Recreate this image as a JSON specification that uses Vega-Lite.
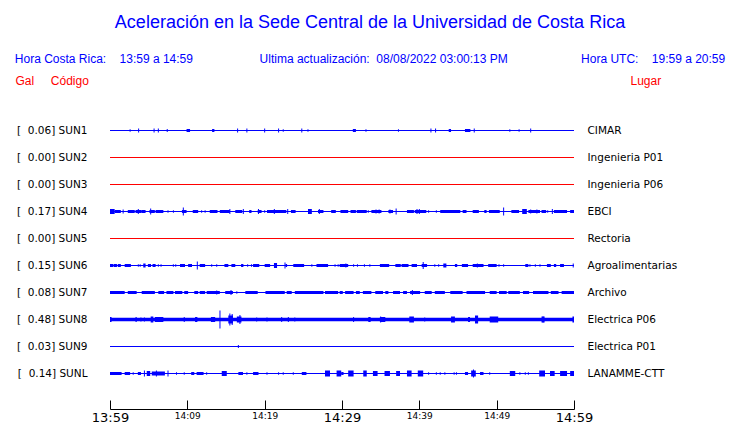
{
  "$schema": "https://vega.github.io/schema/vega-lite/v6.json",
  "width": 464,
  "height": 297,
  "autosize": {"type": "none"},
  "padding": {"left": 110, "top": 103, "right": 166, "bottom": 23},
  "background": "white",
  "config": {"view": {"stroke": null}, "axis": {"grid": false}},
  "title": {
    "text": "\u00a0\u00a0Aceleración en la Sede Central de la Universidad de Costa Rica",
    "subtitle": "Hora Costa Rica:\u00a0\u00a0\u00a0\u00a013:59 a 14:59\u00a0\u00a0\u00a0\u00a0\u00a0\u00a0\u00a0\u00a0\u00a0\u00a0\u00a0\u00a0\u00a0\u00a0\u00a0\u00a0\u00a0\u00a0\u00a0\u00a0Ultima actualización:\u00a0\u00a008/08/2022 03:00:13 PM\u00a0\u00a0\u00a0\u00a0\u00a0\u00a0\u00a0\u00a0\u00a0\u00a0\u00a0\u00a0\u00a0\u00a0\u00a0\u00a0\u00a0\u00a0\u00a0\u00a0\u00a0\u00a0Hora UTC:\u00a0\u00a0\u00a0\u00a019:59 a 20:59",
    "color": "#0000ff",
    "subtitleColor": "#0000ff",
    "font": "Liberation Sans",
    "subtitleFont": "Liberation Sans",
    "fontSize": 18,
    "subtitleFontSize": 12,
    "fontWeight": "normal",
    "anchor": "middle",
    "dx": 28,
    "offset": 9,
    "subtitlePadding": 22
  },
  "datasets": {
    "trazas": [
      {"cod": "SUN1", "t0": 0, "t1": 60, "estado": "con datos"},
      {"cod": "SUN2", "t0": 0, "t1": 60, "estado": "sin datos"},
      {"cod": "SUN3", "t0": 0, "t1": 60, "estado": "sin datos"},
      {"cod": "SUN4", "t0": 0, "t1": 60, "estado": "con datos"},
      {"cod": "SUN5", "t0": 0, "t1": 60, "estado": "sin datos"},
      {"cod": "SUN6", "t0": 0, "t1": 60, "estado": "con datos"},
      {"cod": "SUN7", "t0": 0, "t1": 60, "estado": "con datos"},
      {"cod": "SUN8", "t0": 0, "t1": 60, "estado": "con datos"},
      {"cod": "SUN9", "t0": 0, "t1": 60, "estado": "con datos"},
      {"cod": "SUNL", "t0": 0, "t1": 60, "estado": "con datos"}
    ],
    "bloques": [
      {"cod": "SUN1", "t0": 9.9, "t1": 10.35, "amp": 3},
      {"cod": "SUN1", "t0": 13.2, "t1": 13.5, "amp": 3},
      {"cod": "SUN1", "t0": 31.4, "t1": 31.8, "amp": 3},
      {"cod": "SUN1", "t0": 43.8, "t1": 44.1, "amp": 3},
      {"cod": "SUN1", "t0": 45.9, "t1": 46.6, "amp": 3},

      {"cod": "SUN4", "t0": 0, "t1": 0.6, "amp": 5},
      {"cod": "SUN4", "t0": 0.6, "t1": 1.4, "amp": 3},
      {"cod": "SUN4", "t0": 2.3, "t1": 3.2, "amp": 3},
      {"cod": "SUN4", "t0": 3.3, "t1": 4.1, "amp": 3},
      {"cod": "SUN4", "t0": 4.1, "t1": 4.6, "amp": 3},
      {"cod": "SUN4", "t0": 5.1, "t1": 5.8, "amp": 3},
      {"cod": "SUN4", "t0": 5.9, "t1": 6.9, "amp": 3},
      {"cod": "SUN4", "t0": 9.3, "t1": 9.9, "amp": 3},
      {"cod": "SUN4", "t0": 10.7, "t1": 11.4, "amp": 3},
      {"cod": "SUN4", "t0": 12.9, "t1": 13.9, "amp": 3},
      {"cod": "SUN4", "t0": 14.2, "t1": 15.5, "amp": 3},
      {"cod": "SUN4", "t0": 16.2, "t1": 17.1, "amp": 3},
      {"cod": "SUN4", "t0": 18.0, "t1": 18.3, "amp": 3},
      {"cod": "SUN4", "t0": 19.1, "t1": 19.6, "amp": 3},
      {"cod": "SUN4", "t0": 20.3, "t1": 22.8, "amp": 3},
      {"cod": "SUN4", "t0": 23.4, "t1": 24.0, "amp": 3},
      {"cod": "SUN4", "t0": 25.6, "t1": 26.1, "amp": 5},
      {"cod": "SUN4", "t0": 26.9, "t1": 27.6, "amp": 3},
      {"cod": "SUN4", "t0": 28.6, "t1": 29.2, "amp": 3},
      {"cod": "SUN4", "t0": 29.8, "t1": 30.8, "amp": 3},
      {"cod": "SUN4", "t0": 31.1, "t1": 31.8, "amp": 3},
      {"cod": "SUN4", "t0": 31.9, "t1": 33.2, "amp": 3},
      {"cod": "SUN4", "t0": 33.8, "t1": 35.1, "amp": 3},
      {"cod": "SUN4", "t0": 36.0, "t1": 36.6, "amp": 3},
      {"cod": "SUN4", "t0": 38.4, "t1": 39.3, "amp": 3},
      {"cod": "SUN4", "t0": 39.4, "t1": 40.9, "amp": 3},
      {"cod": "SUN4", "t0": 42.7, "t1": 45.3, "amp": 3},
      {"cod": "SUN4", "t0": 45.6, "t1": 46.1, "amp": 3},
      {"cod": "SUN4", "t0": 46.9, "t1": 47.7, "amp": 3},
      {"cod": "SUN4", "t0": 48.4, "t1": 48.7, "amp": 3},
      {"cod": "SUN4", "t0": 49.0, "t1": 50.4, "amp": 3},
      {"cod": "SUN4", "t0": 51.9, "t1": 52.9, "amp": 3},
      {"cod": "SUN4", "t0": 53.3, "t1": 53.9, "amp": 5},
      {"cod": "SUN4", "t0": 54.1, "t1": 55.6, "amp": 3},
      {"cod": "SUN4", "t0": 55.8, "t1": 56.4, "amp": 3},
      {"cod": "SUN4", "t0": 57.4, "t1": 59.1, "amp": 3},
      {"cod": "SUN4", "t0": 59.5, "t1": 60, "amp": 3},

      {"cod": "SUN6", "t0": 0, "t1": 0.45, "amp": 3},
      {"cod": "SUN6", "t0": 0.5, "t1": 0.9, "amp": 3},
      {"cod": "SUN6", "t0": 1.0, "t1": 1.4, "amp": 3},
      {"cod": "SUN6", "t0": 1.9, "t1": 2.7, "amp": 3},
      {"cod": "SUN6", "t0": 4.3, "t1": 4.6, "amp": 4},
      {"cod": "SUN6", "t0": 4.9, "t1": 5.3, "amp": 3},
      {"cod": "SUN6", "t0": 5.5, "t1": 5.9, "amp": 3},
      {"cod": "SUN6", "t0": 9.05, "t1": 9.7, "amp": 3},
      {"cod": "SUN6", "t0": 10.1, "t1": 10.6, "amp": 3},
      {"cod": "SUN6", "t0": 11.6, "t1": 12.3, "amp": 3},
      {"cod": "SUN6", "t0": 14.8, "t1": 15.3, "amp": 3},
      {"cod": "SUN6", "t0": 15.7, "t1": 16.2, "amp": 3},
      {"cod": "SUN6", "t0": 16.95, "t1": 17.25, "amp": 3},
      {"cod": "SUN6", "t0": 18.5, "t1": 19.3, "amp": 3},
      {"cod": "SUN6", "t0": 20.0, "t1": 20.7, "amp": 3},
      {"cod": "SUN6", "t0": 21.2, "t1": 21.6, "amp": 5},
      {"cod": "SUN6", "t0": 22.7, "t1": 22.9, "amp": 3},
      {"cod": "SUN6", "t0": 23.7, "t1": 25.1, "amp": 3},
      {"cod": "SUN6", "t0": 26.7, "t1": 28.2, "amp": 3},
      {"cod": "SUN6", "t0": 29.7, "t1": 30.8, "amp": 3},
      {"cod": "SUN6", "t0": 34.9, "t1": 36.1, "amp": 3},
      {"cod": "SUN6", "t0": 36.9, "t1": 37.6, "amp": 3},
      {"cod": "SUN6", "t0": 37.7, "t1": 38.6, "amp": 3},
      {"cod": "SUN6", "t0": 39.0, "t1": 39.7, "amp": 3},
      {"cod": "SUN6", "t0": 40.3, "t1": 41.0, "amp": 3},
      {"cod": "SUN6", "t0": 43.1, "t1": 43.5, "amp": 4},
      {"cod": "SUN6", "t0": 44.6, "t1": 44.9, "amp": 3},
      {"cod": "SUN6", "t0": 45.5, "t1": 46.3, "amp": 3},
      {"cod": "SUN6", "t0": 46.9, "t1": 48.3, "amp": 3},
      {"cod": "SUN6", "t0": 48.9, "t1": 50.0, "amp": 3},
      {"cod": "SUN6", "t0": 53.7, "t1": 54.1, "amp": 3},
      {"cod": "SUN6", "t0": 56.5, "t1": 57.0, "amp": 3},
      {"cod": "SUN6", "t0": 57.4, "t1": 57.7, "amp": 3},
      {"cod": "SUN6", "t0": 58.2, "t1": 58.7, "amp": 3},

      {"cod": "SUN7", "t0": 0, "t1": 1.9, "amp": 3},
      {"cod": "SUN7", "t0": 2.3, "t1": 3.45, "amp": 3},
      {"cod": "SUN7", "t0": 4.1, "t1": 5.8, "amp": 3},
      {"cod": "SUN7", "t0": 6.25, "t1": 7.0, "amp": 3},
      {"cod": "SUN7", "t0": 7.3, "t1": 8.2, "amp": 3},
      {"cod": "SUN7", "t0": 8.4, "t1": 9.35, "amp": 3},
      {"cod": "SUN7", "t0": 9.6, "t1": 10.1, "amp": 3},
      {"cod": "SUN7", "t0": 10.9, "t1": 11.4, "amp": 3},
      {"cod": "SUN7", "t0": 11.6, "t1": 12.3, "amp": 3},
      {"cod": "SUN7", "t0": 12.5, "t1": 14.2, "amp": 3},
      {"cod": "SUN7", "t0": 14.9, "t1": 15.9, "amp": 3},
      {"cod": "SUN7", "t0": 17.5, "t1": 19.1, "amp": 3},
      {"cod": "SUN7", "t0": 20.1, "t1": 22.6, "amp": 3},
      {"cod": "SUN7", "t0": 22.85, "t1": 23.5, "amp": 3},
      {"cod": "SUN7", "t0": 23.9, "t1": 27.6, "amp": 3},
      {"cod": "SUN7", "t0": 27.8, "t1": 29.5, "amp": 3},
      {"cod": "SUN7", "t0": 29.7, "t1": 30.1, "amp": 3},
      {"cod": "SUN7", "t0": 30.4, "t1": 31.5, "amp": 3},
      {"cod": "SUN7", "t0": 31.8, "t1": 32.3, "amp": 3},
      {"cod": "SUN7", "t0": 32.7, "t1": 33.8, "amp": 3},
      {"cod": "SUN7", "t0": 34.3, "t1": 35.3, "amp": 3},
      {"cod": "SUN7", "t0": 35.6, "t1": 36.0, "amp": 3},
      {"cod": "SUN7", "t0": 36.6, "t1": 37.5, "amp": 3},
      {"cod": "SUN7", "t0": 37.9, "t1": 38.4, "amp": 3},
      {"cod": "SUN7", "t0": 38.8, "t1": 40.1, "amp": 3},
      {"cod": "SUN7", "t0": 40.7, "t1": 41.6, "amp": 3},
      {"cod": "SUN7", "t0": 42.0, "t1": 43.3, "amp": 3},
      {"cod": "SUN7", "t0": 44.0, "t1": 45.6, "amp": 3},
      {"cod": "SUN7", "t0": 46.1, "t1": 48.5, "amp": 3},
      {"cod": "SUN7", "t0": 49.1, "t1": 50.0, "amp": 3},
      {"cod": "SUN7", "t0": 50.3, "t1": 51.3, "amp": 3},
      {"cod": "SUN7", "t0": 51.5, "t1": 53.0, "amp": 3},
      {"cod": "SUN7", "t0": 53.4, "t1": 54.2, "amp": 3},
      {"cod": "SUN7", "t0": 54.7, "t1": 56.7, "amp": 3},
      {"cod": "SUN7", "t0": 57.0, "t1": 58.0, "amp": 3},
      {"cod": "SUN7", "t0": 58.4, "t1": 60, "amp": 3},

      {"cod": "SUN8", "t0": 0, "t1": 60, "amp": 3.5},
      {"cod": "SUN8", "t0": 0, "t1": 0.2, "amp": 5},
      {"cod": "SUN8", "t0": 3.3, "t1": 3.45, "amp": 5},
      {"cod": "SUN8", "t0": 5.26, "t1": 5.6, "amp": 6},
      {"cod": "SUN8", "t0": 5.8, "t1": 6.9, "amp": 5},
      {"cod": "SUN8", "t0": 11.0, "t1": 11.3, "amp": 5},
      {"cod": "SUN8", "t0": 13.05, "t1": 13.6, "amp": 5},
      {"cod": "SUN8", "t0": 15.3, "t1": 15.9, "amp": 8},
      {"cod": "SUN8", "t0": 16.4, "t1": 17.0, "amp": 6},
      {"cod": "SUN8", "t0": 33.4, "t1": 33.7, "amp": 5},
      {"cod": "SUN8", "t0": 34.9, "t1": 35.6, "amp": 5},
      {"cod": "SUN8", "t0": 38.7, "t1": 39.3, "amp": 6},
      {"cod": "SUN8", "t0": 44.1, "t1": 44.6, "amp": 6},
      {"cod": "SUN8", "t0": 46.3, "t1": 46.55, "amp": 5},
      {"cod": "SUN8", "t0": 47.2, "t1": 47.6, "amp": 8},
      {"cod": "SUN8", "t0": 49.1, "t1": 50.2, "amp": 6},
      {"cod": "SUN8", "t0": 55.8, "t1": 56.2, "amp": 6},
      {"cod": "SUN8", "t0": 59.8, "t1": 60, "amp": 6},

      {"cod": "SUNL", "t0": 0, "t1": 1.5, "amp": 3},
      {"cod": "SUNL", "t0": 1.9, "t1": 2.6, "amp": 3},
      {"cod": "SUNL", "t0": 3.6, "t1": 4.0, "amp": 3},
      {"cod": "SUNL", "t0": 4.75, "t1": 5.2, "amp": 5},
      {"cod": "SUNL", "t0": 5.4, "t1": 7.1, "amp": 4},
      {"cod": "SUNL", "t0": 10.5, "t1": 10.9, "amp": 3},
      {"cod": "SUNL", "t0": 11.2, "t1": 12.1, "amp": 3},
      {"cod": "SUNL", "t0": 14.45, "t1": 15.1, "amp": 5},
      {"cod": "SUNL", "t0": 16.6, "t1": 17.2, "amp": 3},
      {"cod": "SUNL", "t0": 18.5, "t1": 19.2, "amp": 3},
      {"cod": "SUNL", "t0": 24.8, "t1": 25.4, "amp": 3},
      {"cod": "SUNL", "t0": 27.8, "t1": 28.45, "amp": 6},
      {"cod": "SUNL", "t0": 29.3, "t1": 29.9, "amp": 6},
      {"cod": "SUNL", "t0": 29.9, "t1": 30.2, "amp": 3},
      {"cod": "SUNL", "t0": 30.8, "t1": 31.5, "amp": 6},
      {"cod": "SUNL", "t0": 32.75, "t1": 33.2, "amp": 6},
      {"cod": "SUNL", "t0": 34.0, "t1": 34.6, "amp": 5},
      {"cod": "SUNL", "t0": 35.5, "t1": 36.2, "amp": 5},
      {"cod": "SUNL", "t0": 37.0, "t1": 37.5, "amp": 5},
      {"cod": "SUNL", "t0": 38.4, "t1": 39.0, "amp": 6},
      {"cod": "SUNL", "t0": 39.8, "t1": 40.5, "amp": 6},
      {"cod": "SUNL", "t0": 45.9, "t1": 46.3, "amp": 3},
      {"cod": "SUNL", "t0": 46.7, "t1": 47.3, "amp": 6},
      {"cod": "SUNL", "t0": 47.85, "t1": 48.3, "amp": 3},
      {"cod": "SUNL", "t0": 51.7, "t1": 52.4, "amp": 5},
      {"cod": "SUNL", "t0": 55.5, "t1": 56.25, "amp": 6},
      {"cod": "SUNL", "t0": 56.9, "t1": 57.5, "amp": 5},
      {"cod": "SUNL", "t0": 58.2, "t1": 59.1, "amp": 5},
      {"cod": "SUNL", "t0": 59.5, "t1": 60, "amp": 5}
    ],
    "picos": [
      {"cod": "SUN1", "t0": 2.6, "amp": 2.5},
      {"cod": "SUN1", "t0": 3.7, "amp": 4},
      {"cod": "SUN1", "t0": 5.7, "amp": 4},
      {"cod": "SUN1", "t0": 6.25, "amp": 4},
      {"cod": "SUN1", "t0": 7.4, "amp": 3},
      {"cod": "SUN1", "t0": 16.5, "amp": 4},
      {"cod": "SUN1", "t0": 17.7, "amp": 4},
      {"cod": "SUN1", "t0": 20.0, "amp": 4},
      {"cod": "SUN1", "t0": 21.8, "amp": 4},
      {"cod": "SUN1", "t0": 22.4, "amp": 2.5},
      {"cod": "SUN1", "t0": 24.8, "amp": 4},
      {"cod": "SUN1", "t0": 25.6, "amp": 2.5},
      {"cod": "SUN1", "t0": 33.1, "amp": 2.5},
      {"cod": "SUN1", "t0": 37.3, "amp": 2.5},
      {"cod": "SUN1", "t0": 41.5, "amp": 4},
      {"cod": "SUN1", "t0": 42.1, "amp": 4},
      {"cod": "SUN1", "t0": 47.1, "amp": 4},
      {"cod": "SUN1", "t0": 51.7, "amp": 2.5},
      {"cod": "SUN1", "t0": 52.9, "amp": 2.5},
      {"cod": "SUN1", "t0": 54.4, "amp": 4},

      {"cod": "SUN4", "t0": 1.7, "amp": 4},
      {"cod": "SUN4", "t0": 3.66, "amp": 5},
      {"cod": "SUN4", "t0": 5.26, "amp": 6},
      {"cod": "SUN4", "t0": 6.0, "amp": 2.5},
      {"cod": "SUN4", "t0": 6.5, "amp": 2.5},
      {"cod": "SUN4", "t0": 7.5, "amp": 2.5},
      {"cod": "SUN4", "t0": 8.2, "amp": 2.5},
      {"cod": "SUN4", "t0": 9.48, "amp": 8},
      {"cod": "SUN4", "t0": 11.85, "amp": 2.5},
      {"cod": "SUN4", "t0": 12.3, "amp": 2.5},
      {"cod": "SUN4", "t0": 15.5, "amp": 5},
      {"cod": "SUN4", "t0": 17.24, "amp": 5},
      {"cod": "SUN4", "t0": 19.2, "amp": 5},
      {"cod": "SUN4", "t0": 20.0, "amp": 2.5},
      {"cod": "SUN4", "t0": 21.25, "amp": 5},
      {"cod": "SUN4", "t0": 22.98, "amp": 5},
      {"cod": "SUN4", "t0": 27.07, "amp": 5},
      {"cod": "SUN4", "t0": 33.4, "amp": 2.5},
      {"cod": "SUN4", "t0": 34.4, "amp": 4},
      {"cod": "SUN4", "t0": 34.8, "amp": 4},
      {"cod": "SUN4", "t0": 36.2, "amp": 4},
      {"cod": "SUN4", "t0": 37.0, "amp": 6},
      {"cod": "SUN4", "t0": 39.7, "amp": 5},
      {"cod": "SUN4", "t0": 40.0, "amp": 5},
      {"cod": "SUN4", "t0": 41.2, "amp": 2.5},
      {"cod": "SUN4", "t0": 42.2, "amp": 2.5},
      {"cod": "SUN4", "t0": 50.9, "amp": 8},
      {"cod": "SUN4", "t0": 54.4, "amp": 4},
      {"cod": "SUN4", "t0": 55.2, "amp": 4},
      {"cod": "SUN4", "t0": 56.6, "amp": 2.5},
      {"cod": "SUN4", "t0": 57.2, "amp": 5},

      {"cod": "SUN6", "t0": 3.66, "amp": 2.5},
      {"cod": "SUN6", "t0": 3.9, "amp": 2.5},
      {"cod": "SUN6", "t0": 6.25, "amp": 2.5},
      {"cod": "SUN6", "t0": 6.6, "amp": 2.5},
      {"cod": "SUN6", "t0": 8.19, "amp": 2.5},
      {"cod": "SUN6", "t0": 8.5, "amp": 2.5},
      {"cod": "SUN6", "t0": 11.29, "amp": 8},
      {"cod": "SUN6", "t0": 13.15, "amp": 2.5},
      {"cod": "SUN6", "t0": 13.8, "amp": 2.5},
      {"cod": "SUN6", "t0": 17.8, "amp": 2.5},
      {"cod": "SUN6", "t0": 18.3, "amp": 2.5},
      {"cod": "SUN6", "t0": 22.63, "amp": 6},
      {"cod": "SUN6", "t0": 26.1, "amp": 2.5},
      {"cod": "SUN6", "t0": 29.1, "amp": 2.5},
      {"cod": "SUN6", "t0": 29.5, "amp": 2.5},
      {"cod": "SUN6", "t0": 30.5, "amp": 4},
      {"cod": "SUN6", "t0": 31.5, "amp": 2.5},
      {"cod": "SUN6", "t0": 32.0, "amp": 2.5},
      {"cod": "SUN6", "t0": 32.9, "amp": 2.5},
      {"cod": "SUN6", "t0": 33.6, "amp": 2.5},
      {"cod": "SUN6", "t0": 40.5, "amp": 7},
      {"cod": "SUN6", "t0": 42.0, "amp": 2.5},
      {"cod": "SUN6", "t0": 42.5, "amp": 2.5},
      {"cod": "SUN6", "t0": 47.5, "amp": 4},
      {"cod": "SUN6", "t0": 50.3, "amp": 2.5},
      {"cod": "SUN6", "t0": 50.9, "amp": 2.5},
      {"cod": "SUN6", "t0": 54.3, "amp": 2.5},
      {"cod": "SUN6", "t0": 55.0, "amp": 2.5},
      {"cod": "SUN6", "t0": 55.6, "amp": 2.5},
      {"cod": "SUN6", "t0": 59.9, "amp": 4},

      {"cod": "SUN7", "t0": 13.8, "amp": 4},
      {"cod": "SUN7", "t0": 15.65, "amp": 5},
      {"cod": "SUN7", "t0": 16.4, "amp": 2.5},
      {"cod": "SUN7", "t0": 29.95, "amp": 2.5},
      {"cod": "SUN7", "t0": 39.1, "amp": 5},

      {"cod": "SUN8", "t0": 4.0, "amp": 4},
      {"cod": "SUN8", "t0": 4.45, "amp": 4},
      {"cod": "SUN8", "t0": 9.6, "amp": 5},
      {"cod": "SUN8", "t0": 14.22, "amp": 18},
      {"cod": "SUN8", "t0": 15.5, "amp": 12},
      {"cod": "SUN8", "t0": 15.8, "amp": 11},
      {"cod": "SUN8", "t0": 16.8, "amp": 9},
      {"cod": "SUN8", "t0": 18.97, "amp": 4},
      {"cod": "SUN8", "t0": 20.3, "amp": 4},
      {"cod": "SUN8", "t0": 22.2, "amp": 5},
      {"cod": "SUN8", "t0": 23.06, "amp": 5},
      {"cod": "SUN8", "t0": 23.9, "amp": 4},
      {"cod": "SUN8", "t0": 31.5, "amp": 5},
      {"cod": "SUN8", "t0": 35.0, "amp": 6},
      {"cod": "SUN8", "t0": 40.7, "amp": 4},
      {"cod": "SUN8", "t0": 41.9, "amp": 3},
      {"cod": "SUN8", "t0": 56.0, "amp": 6},

      {"cod": "SUN9", "t0": 16.6, "amp": 3},

      {"cod": "SUNL", "t0": 3.0, "amp": 2.5},
      {"cod": "SUNL", "t0": 4.45, "amp": 6},
      {"cod": "SUNL", "t0": 6.0, "amp": 6},
      {"cod": "SUNL", "t0": 7.5, "amp": 6},
      {"cod": "SUNL", "t0": 8.6, "amp": 2.5},
      {"cod": "SUNL", "t0": 9.6, "amp": 2.5},
      {"cod": "SUNL", "t0": 12.5, "amp": 2.5},
      {"cod": "SUNL", "t0": 17.7, "amp": 2.5},
      {"cod": "SUNL", "t0": 20.3, "amp": 2.5},
      {"cod": "SUNL", "t0": 21.8, "amp": 2.5},
      {"cod": "SUNL", "t0": 22.4, "amp": 2.5},
      {"cod": "SUNL", "t0": 23.7, "amp": 2.5},
      {"cod": "SUNL", "t0": 41.2, "amp": 2.5},
      {"cod": "SUNL", "t0": 42.2, "amp": 2.5},
      {"cod": "SUNL", "t0": 42.7, "amp": 2.5},
      {"cod": "SUNL", "t0": 43.3, "amp": 2.5},
      {"cod": "SUNL", "t0": 44.5, "amp": 2.5},
      {"cod": "SUNL", "t0": 44.8, "amp": 2.5},
      {"cod": "SUNL", "t0": 47.0, "amp": 8},
      {"cod": "SUNL", "t0": 49.1, "amp": 2.5},
      {"cod": "SUNL", "t0": 53.0, "amp": 2.5},
      {"cod": "SUNL", "t0": 53.7, "amp": 2.5},
      {"cod": "SUNL", "t0": 54.1, "amp": 2.5}
    ]
  },
  "layer": [
    {
      "data": {"name": "trazas"},
      "mark": {"type": "rule", "strokeWidth": 1, "yOffset": 0.5},
      "encoding": {
        "x": {
          "field": "t0", "type": "quantitative",
          "scale": {"domain": [0, 60], "nice": false, "zero": false},
          "axis": {
            "values": [0, 5, 10, 15, 20, 25, 30, 35, 40, 45, 50, 55, 60],
            "title": null,
            "grid": false,
            "offset": 9,
            "tickSize": -9,
            "tickColor": "black",
            "domainColor": "black",
            "labelColor": "black",
            "labelFont": "DejaVu Sans",
            "labelFontSize": {"condition": {"test": "datum.value % 30 == 0", "value": 13}, "value": 9},
            "labelBaseline": "top",
            "labelPadding": 11,
            "labelFlush": false,
            "labelOverlap": false,
            "labelExpr": "datum.value==0?'13:59':datum.value==10?'14:09':datum.value==20?'14:19':datum.value==30?'14:29':datum.value==40?'14:39':datum.value==50?'14:49':datum.value==60?'14:59':''"
          }
        },
        "x2": {"field": "t1"},
        "y": {
          "field": "cod", "type": "nominal",
          "scale": {"type": "point", "domain": ["SUN1","SUN2","SUN3","SUN4","SUN5","SUN6","SUN7","SUN8","SUN9","SUNL"], "padding": 1},
          "axis": {
            "orient": "left",
            "ticks": false,
            "domain": false,
            "grid": false,
            "labelFont": "DejaVu Sans",
            "labelFontSize": 10.5,
            "labelColor": "black",
            "labelPadding": 23,
            "labelExpr": "datum.value=='SUN1'?'[\u00a0\u00a00.06] SUN1':datum.value=='SUN2'?'[\u00a0\u00a00.00] SUN2':datum.value=='SUN3'?'[\u00a0\u00a00.00] SUN3':datum.value=='SUN4'?'[\u00a0\u00a00.17] SUN4':datum.value=='SUN5'?'[\u00a0\u00a00.00] SUN5':datum.value=='SUN6'?'[\u00a0\u00a00.15] SUN6':datum.value=='SUN7'?'[\u00a0\u00a00.08] SUN7':datum.value=='SUN8'?'[\u00a0\u00a00.48] SUN8':datum.value=='SUN9'?'[\u00a0\u00a00.03] SUN9':'[\u00a0\u00a00.14] SUNL'",
            "title": "Gal\u00a0\u00a0\u00a0\u00a0\u00a0Código",
            "titleColor": "#ff0000",
            "titleFont": "Liberation Sans",
            "titleFontSize": 12,
            "titleFontWeight": "normal",
            "titleAngle": 0,
            "titleAlign": "left",
            "titleBaseline": "alphabetic",
            "titleX": -95,
            "titleY": -19
          }
        },
        "color": {
          "field": "estado", "type": "nominal",
          "scale": {"domain": ["con datos", "sin datos"], "range": ["#0000ff", "#ff0000"]},
          "legend": null
        }
      }
    },
    {
      "data": {"name": "bloques"},
      "mark": {"type": "bar", "color": "#0000ff", "yOffset": 0.5},
      "encoding": {
        "x": {"field": "t0", "type": "quantitative", "scale": {"domain": [0, 60], "nice": false, "zero": false}},
        "x2": {"field": "t1"},
        "y": {
          "field": "cod", "type": "nominal",
          "scale": {"type": "point", "domain": ["SUN1","SUN2","SUN3","SUN4","SUN5","SUN6","SUN7","SUN8","SUN9","SUNL"], "padding": 1},
          "axis": null
        },
        "size": {"field": "amp", "type": "quantitative", "scale": {"type": "linear", "domain": [0, 20], "range": [0, 20], "zero": true}, "legend": null}
      }
    },
    {
      "data": {"name": "picos"},
      "mark": {"type": "tick", "orient": "vertical", "thickness": 1, "color": "#0000ff", "opacity": 1, "yOffset": 0.5},
      "encoding": {
        "x": {"field": "t0", "type": "quantitative", "scale": {"domain": [0, 60], "nice": false, "zero": false}},
        "y": {
          "field": "cod", "type": "nominal",
          "scale": {"type": "point", "domain": ["SUN1","SUN2","SUN3","SUN4","SUN5","SUN6","SUN7","SUN8","SUN9","SUNL"], "padding": 1},
          "axis": {
            "orient": "right",
            "ticks": false,
            "domain": false,
            "grid": false,
            "labelFont": "DejaVu Sans",
            "labelFontSize": 10.5,
            "labelColor": "black",
            "labelPadding": 13,
            "labelExpr": "datum.value=='SUN1'?'CIMAR':datum.value=='SUN2'?'Ingenieria P01':datum.value=='SUN3'?'Ingenieria P06':datum.value=='SUN4'?'EBCI':datum.value=='SUN5'?'Rectoria':datum.value=='SUN6'?'Agroalimentarias':datum.value=='SUN7'?'Archivo':datum.value=='SUN8'?'Electrica P06':datum.value=='SUN9'?'Electrica P01':'LANAMME-CTT'",
            "title": "Lugar",
            "titleColor": "#ff0000",
            "titleFont": "Liberation Sans",
            "titleFontSize": 12,
            "titleFontWeight": "normal",
            "titleAngle": 0,
            "titleAlign": "left",
            "titleBaseline": "alphabetic",
            "titleX": 56,
            "titleY": -19
          }
        },
        "size": {"field": "amp", "type": "quantitative", "scale": {"type": "linear", "domain": [0, 20], "range": [0, 20], "zero": true}, "legend": null}
      }
    }
  ],
  "resolve": {"axis": {"y": "independent"}}
}
